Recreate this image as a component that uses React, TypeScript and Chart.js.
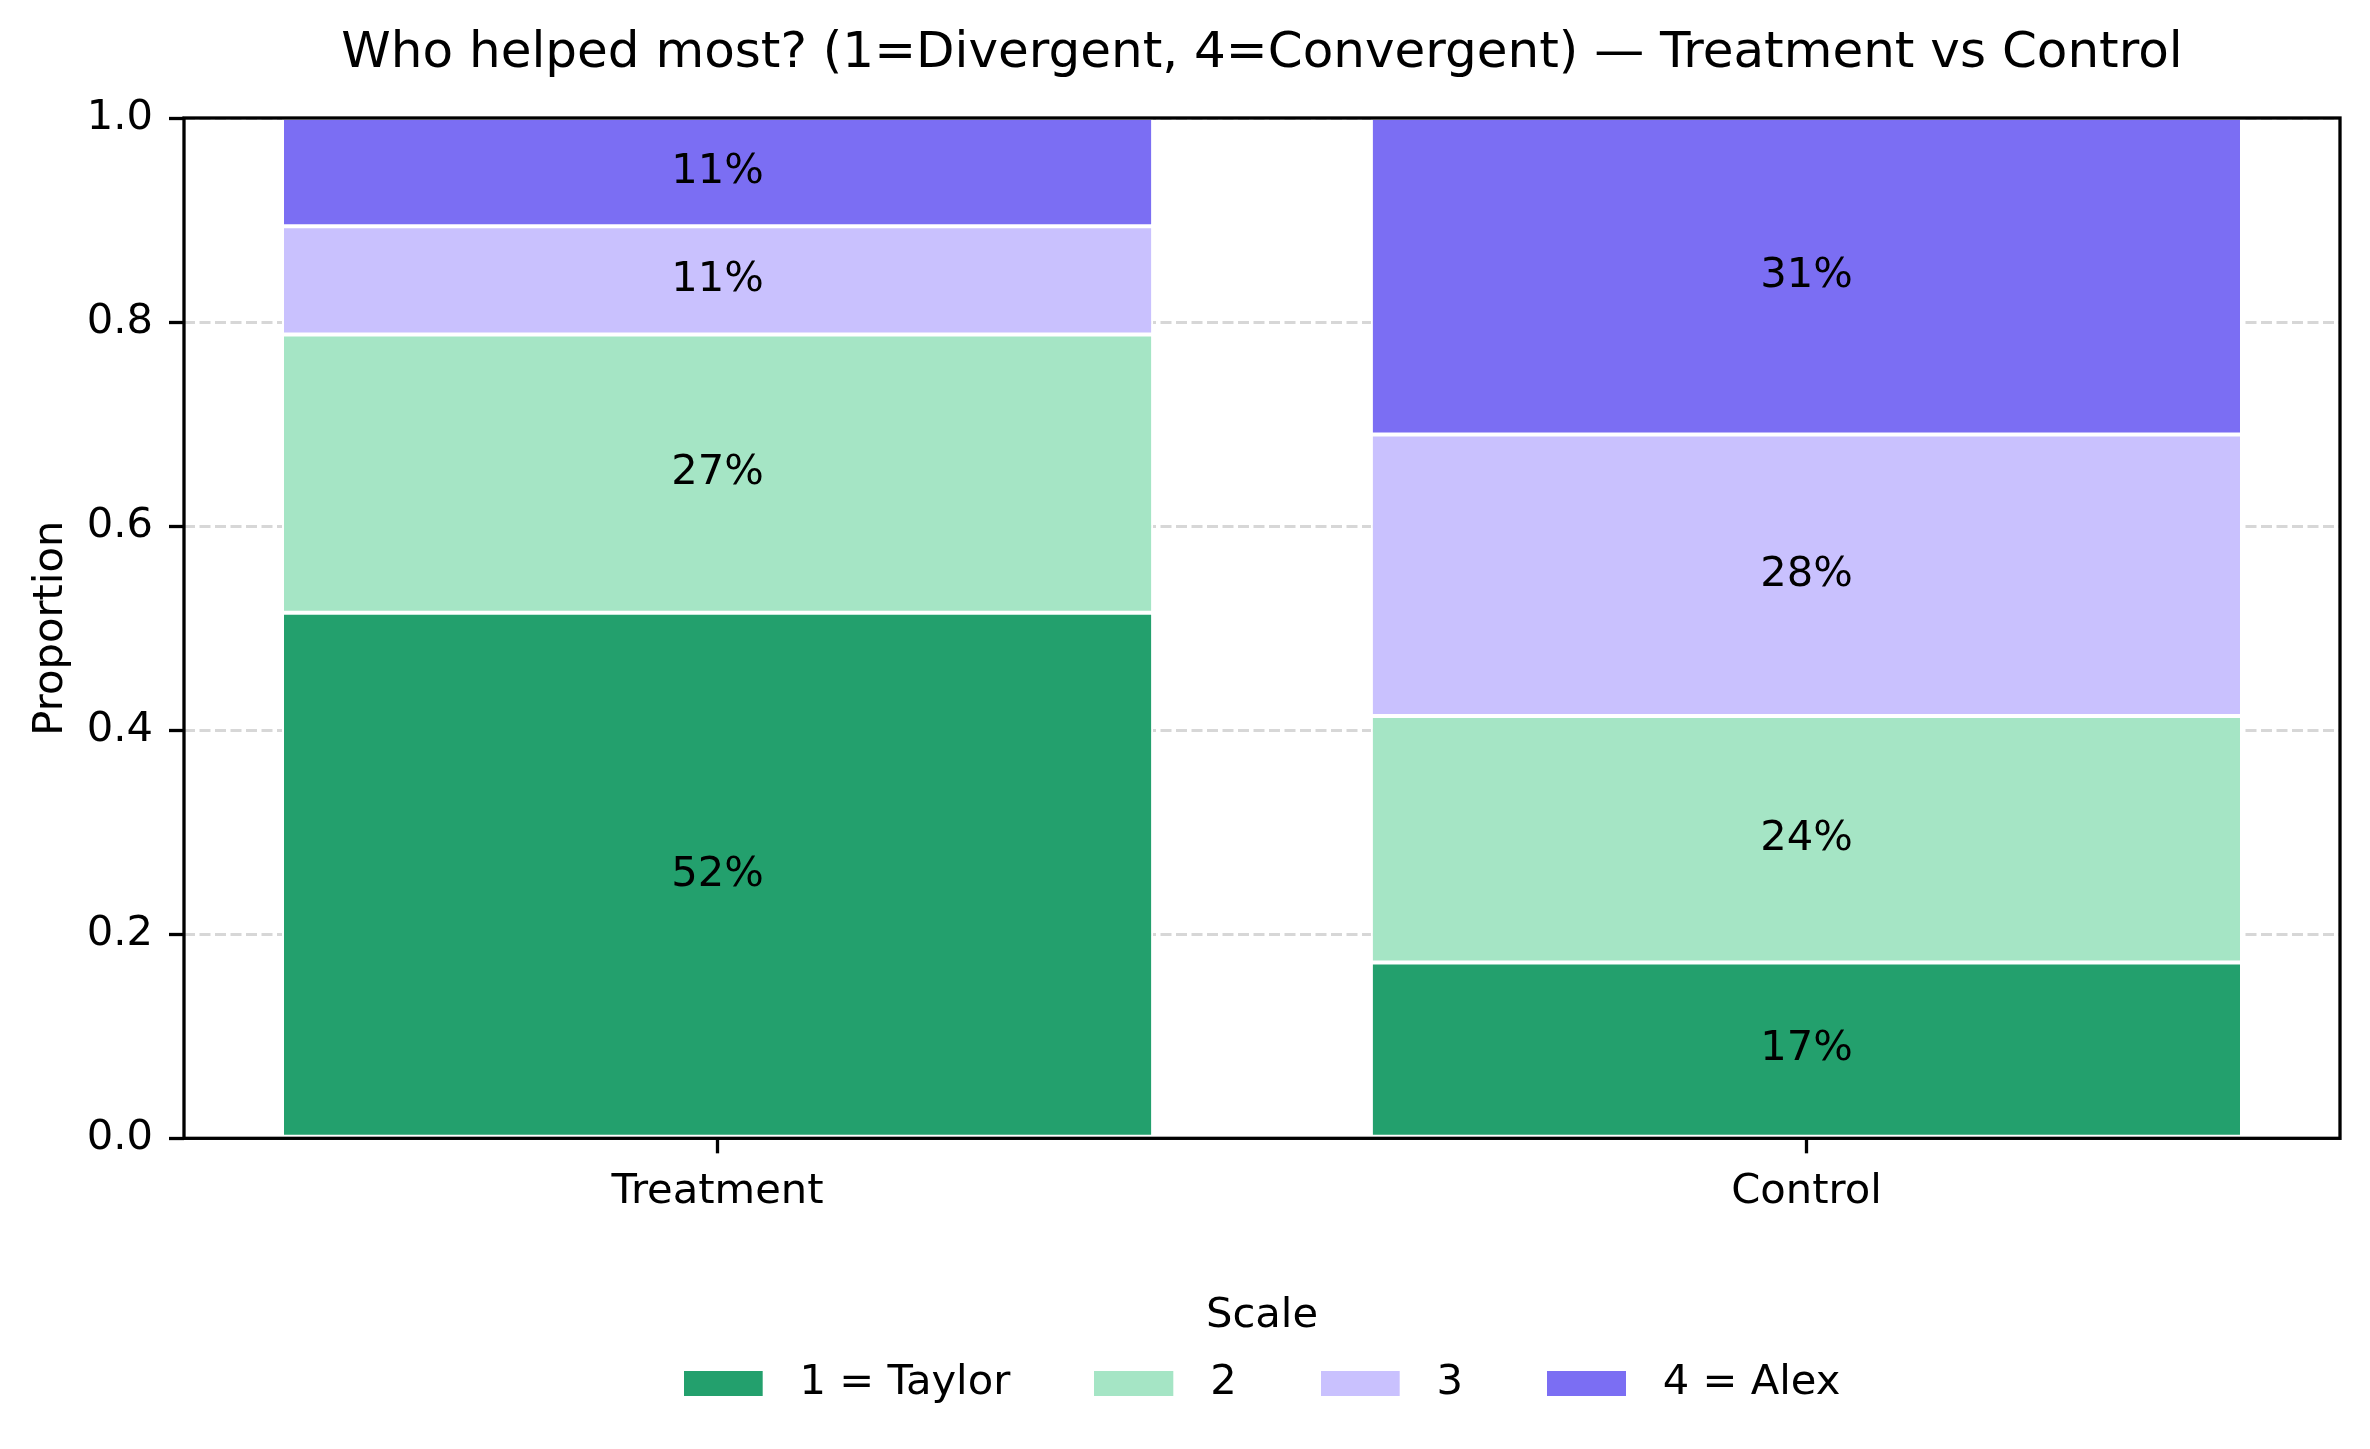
import React, { useEffect, useRef } from "react";
import { Chart, registerables } from "chart.js";

Chart.register(...registerables);

const categories = ["Treatment", "Control"];
const scaleLabels = ["1 = Taylor", "2", "3", "4 = Alex"];
const taylor = [0.5152, 0.1724];
const level2 = [0.2727, 0.2414];
const level3 = [0.1061, 0.2759];
const alex = [0.1061, 0.3103];
const series = [taylor, level2, level3, alex];
const colors = ["#23a06d", "#a5e5c5", "#c9c1fe", "#7b6ef3"];
const yTickValues = [0, 0.2, 0.4, 0.6, 0.8, 1.0];
const titleText = "Who helped most? (1=Divergent, 4=Convergent) — Treatment vs Control";
const legendTitle = "Scale";
const yTitle = "Proportion";

const FONT = "'DejaVu Sans', sans-serif";
const FS = 41.67;
const W = 2370;
const H = 1449;

function makeSwatch(color: string): HTMLCanvasElement {
  const c = document.createElement("canvas");
  c.width = 95;
  c.height = 25;
  const g = c.getContext("2d")!;
  g.fillStyle = color;
  g.fillRect(0, 0, 79, 25);
  return c;
}

const framePlugin = {
  id: "frameAndLabels",
  afterDatasetsDraw(chart: any) {
    const ctx = chart.ctx;
    const a = chart.chartArea;
    ctx.save();
    ctx.strokeStyle = "#000";
    ctx.lineWidth = 3.3;
    ctx.strokeRect(a.left, a.top, a.right - a.left, a.bottom - a.top);
    ctx.fillStyle = "#000";
    ctx.font = `${FS}px ${FONT}`;
    ctx.textAlign = "center";
    ctx.textBaseline = "middle";
    chart.data.datasets.forEach((ds: any, di: number) => {
      const meta = chart.getDatasetMeta(di);
      meta.data.forEach((bar: any, i: number) => {
        const v = ds.data[i];
        if (!v) return;
        const txt = `${Math.round(v * 100)}%`;
        ctx.fillText(txt, bar.x, (bar.y + bar.base) / 2);
      });
    });
    ctx.restore();
  },
};

export default function App() {
  const ref = useRef<HTMLCanvasElement | null>(null);
  useEffect(() => {
    document.body.style.margin = "0";
    const canvas = ref.current!;
    const chart = new Chart(canvas, {
      type: "bar",
      data: {
        labels: categories.map((_, i) => i),
        datasets: series.map((vals, k) => ({
          label: scaleLabels[k],
          data: vals,
          backgroundColor: colors[k],
          borderColor: "#ffffff",
          borderWidth: 2,
          borderSkipped: false,
          barPercentage: 0.8,
          categoryPercentage: 1.0,
        })),
      },
      options: {
        animation: false,
        responsive: false,
        devicePixelRatio: 1,
        events: [],
        layout: { padding: { left: 0, right: 30, top: 0, bottom: 35 } },
        plugins: {
          tooltip: { enabled: false },
          title: {
            display: true,
            fullSize: false,
            text: titleText,
            color: "#000",
            font: { family: FONT, size: 50, weight: "normal", lineHeight: 1.2 },
            padding: { top: 24, bottom: 34 },
          },
          legend: {
            display: true,
            position: "bottom",
            fullSize: false,
            title: {
              display: true,
              text: legendTitle,
              color: "#000",
              font: { family: FONT, size: FS, lineHeight: 1.2 },
              padding: { top: 84, bottom: -67 },
            },
            labels: {
              color: "#000",
              font: { family: FONT, size: FS },
              usePointStyle: true,
              pointStyleWidth: 95,
              boxHeight: 25,
              padding: 84,
              generateLabels: (ch: any) =>
                ch.data.datasets.map((ds: any, i: number) => ({
                  text: ds.label,
                  fillStyle: colors[i],
                  strokeStyle: "#ffffff",
                  lineWidth: 0,
                  pointStyle: makeSwatch(colors[i]),
                  hidden: false,
                  datasetIndex: i,
                  fontColor: "#000",
                })),
            },
          },
        },
        scales: {
          x: {
            type: "linear",
            stacked: true,
            offset: false,
            min: -0.49,
            max: 1.49,
            afterBuildTicks: (s: any) => {
              s.ticks = categories.map((_, i) => ({ value: i }));
            },
            afterFit: (s: any) => {
              s.height = 73;
            },
            border: { display: false },
            grid: {
              offset: false,
              drawOnChartArea: false,
              color: "transparent",
              tickColor: "#000",
              tickWidth: 3.3,
              tickLength: 15,
            },
            ticks: {
              color: "#000",
              font: { family: FONT, size: FS },
              padding: 14,
              maxRotation: 0,
              autoSkip: false,
              callback: (v: any) => categories[Math.round(Number(v))] ?? "",
            },
          },
          y: {
            stacked: true,
            min: 0,
            max: 1,
            afterBuildTicks: (s: any) => {
              s.ticks = yTickValues.map((v) => ({ value: v }));
            },
            afterFit: (s: any) => {
              s.width = 184;
            },
            border: { display: false, dash: [11, 4.5] },
            grid: {
              color: "rgba(205,205,205,0.8)",
              lineWidth: 3,
              tickColor: "#000",
              tickWidth: 3.3,
              tickLength: 15,
              tickBorderDash: [],
            },
            ticks: {
              color: "#000",
              font: { family: FONT, size: FS },
              padding: 16,
              callback: (v: any) => Number(v).toFixed(1),
            },
            title: {
              display: true,
              text: yTitle,
              color: "#000",
              font: { family: FONT, size: FS, lineHeight: 1.2 },
              padding: { top: 26, bottom: 0 },
            },
          },
        },
      } as any,
      plugins: [framePlugin],
    });
    return () => chart.destroy();
  }, []);
  return (
    <div style={{ position: "fixed", left: 0, top: 0, width: W, height: H, background: "#fff" }}>
      <canvas ref={ref} width={W} height={H} style={{ width: W, height: H, display: "block" }} />
    </div>
  );
}
